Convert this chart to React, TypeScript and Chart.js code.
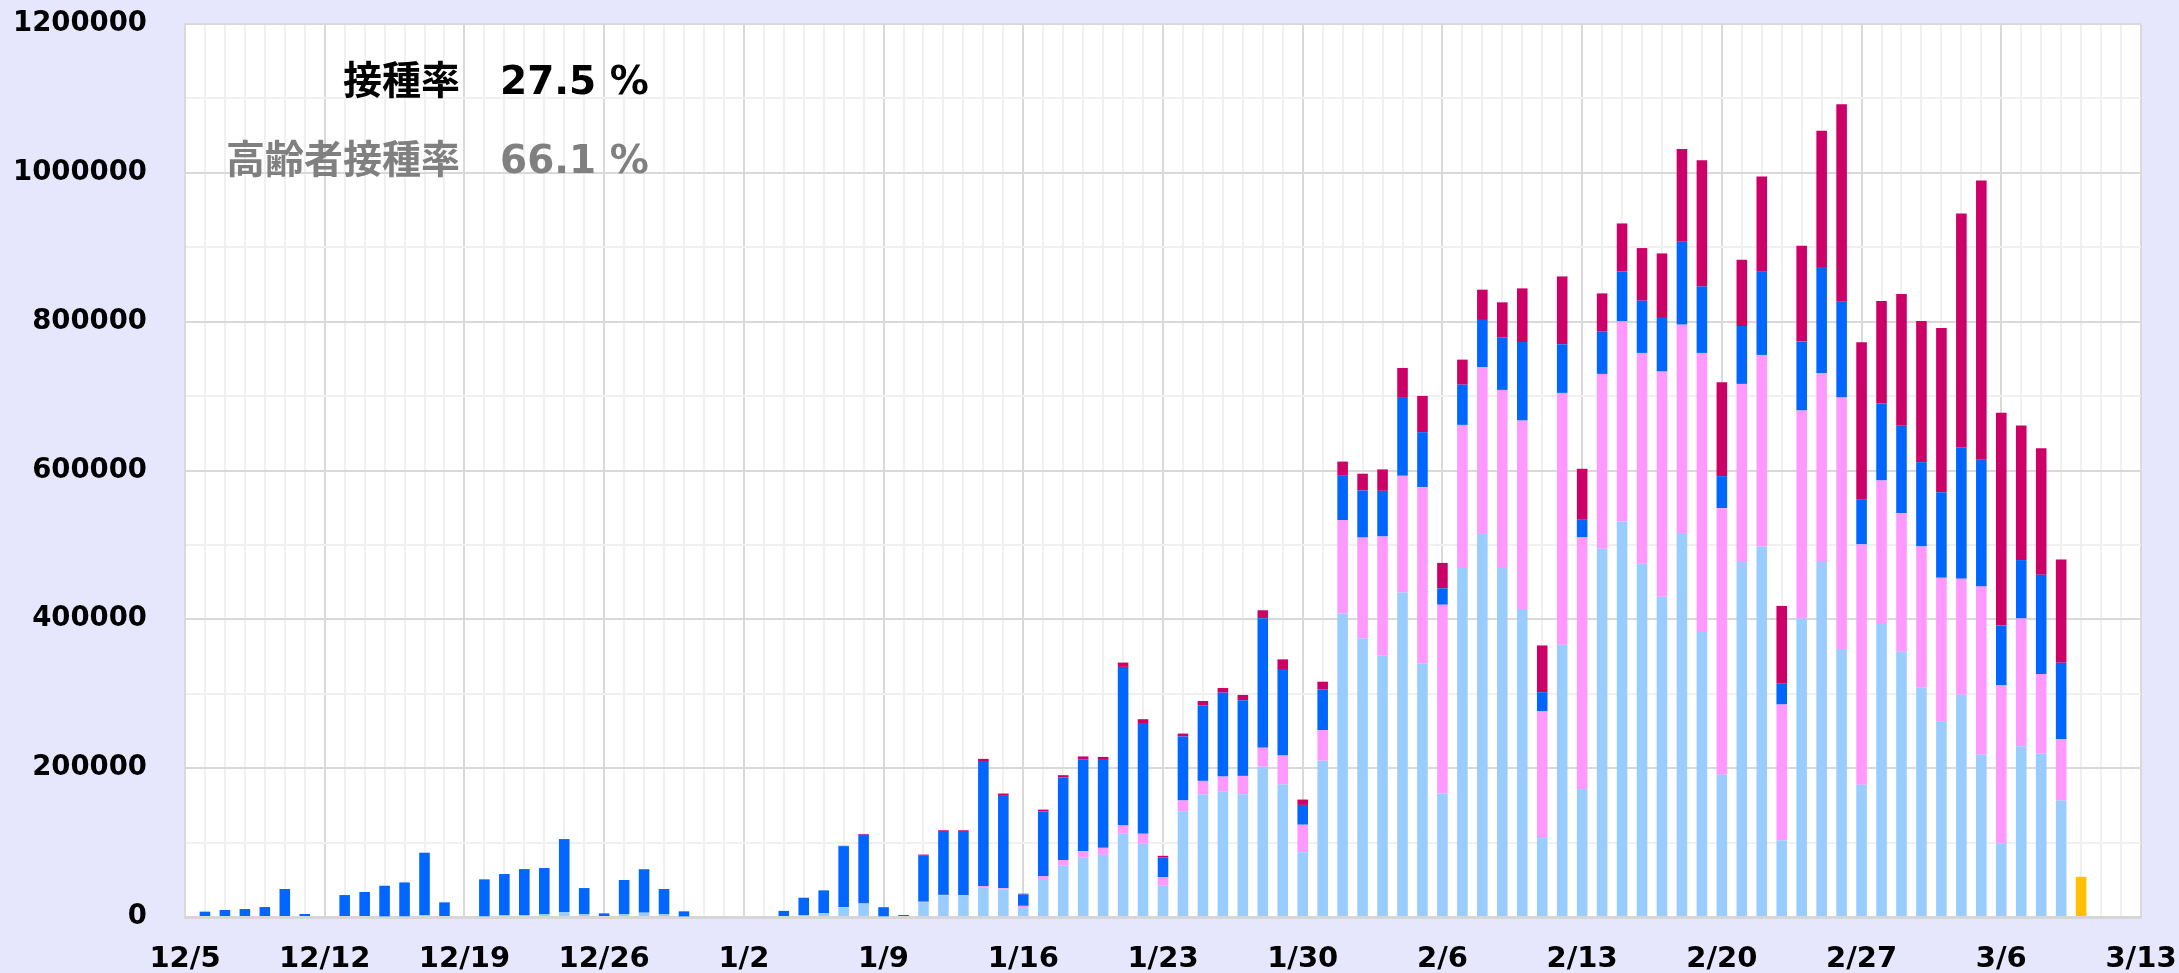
import React, { useEffect, useRef } from 'react';
import { Chart, registerables } from 'chart.js';

Chart.register(...registerables);

// Categories: one per day, 12/5 .. 3/13
const dateLabels = [
  '12/5', '12/6', '12/7', '12/8', '12/9', '12/10', '12/11',
  '12/12', '12/13', '12/14', '12/15', '12/16', '12/17', '12/18',
  '12/19', '12/20', '12/21', '12/22', '12/23', '12/24', '12/25',
  '12/26', '12/27', '12/28', '12/29', '12/30', '12/31', '1/1',
  '1/2', '1/3', '1/4', '1/5', '1/6', '1/7', '1/8',
  '1/9', '1/10', '1/11', '1/12', '1/13', '1/14', '1/15',
  '1/16', '1/17', '1/18', '1/19', '1/20', '1/21', '1/22',
  '1/23', '1/24', '1/25', '1/26', '1/27', '1/28', '1/29',
  '1/30', '1/31', '2/1', '2/2', '2/3', '2/4', '2/5',
  '2/6', '2/7', '2/8', '2/9', '2/10', '2/11', '2/12',
  '2/13', '2/14', '2/15', '2/16', '2/17', '2/18', '2/19',
  '2/20', '2/21', '2/22', '2/23', '2/24', '2/25', '2/26',
  '2/27', '2/28', '3/1', '3/2', '3/3', '3/4', '3/5',
  '3/6', '3/7', '3/8', '3/9', '3/10', '3/11', '3/12',
  '3/13',
];

// Series (bottom to top)
const seriesLightBlue = [
  0, 0, 0, 0, 0, 0, 0,
  0, 0, 0, 800, 1000, 2700, 0,
  0, 1000, 2700, 2700, 3600, 6700, 4000,
  0, 4000, 5800, 3600, 600, 0, 0,
  0, 0, 0, 2700, 5400, 12700, 17700,
  900, 0, 20000, 29000, 28600, 40000, 37000,
  13200, 51000, 68900, 79700, 83500, 111900, 98400,
  42000, 142000, 164500, 168500, 165000, 202000, 178000,
  87000, 210100, 407700, 374600, 351600, 436000, 340500,
  165900, 469100, 516100, 469100, 413900, 106000, 365900,
  172000, 495000, 531400, 475300, 430200, 516000, 383000,
  191000, 477000, 498000, 103000, 401200, 477000, 360100,
  177800, 393700, 356400, 307900, 263100, 298600, 218000,
  98900, 229500, 219500, 156500, 0, 0, 0,
  0,
];

const seriesPink = [
  0, 0, 0, 0, 0, 0, 0,
  0, 0, 0, 0, 0, 0, 0,
  0, 0, 0, 0, 0, 0, 0,
  0, 0, 0, 0, 0, 0, 0,
  0, 0, 0, 0, 0, 500, 500,
  0, 0, 500, 700, 700, 1500, 1500,
  1800, 3600, 7200, 8500, 9400, 11200, 13400,
  11400, 14600, 18400, 20200, 24600, 25500, 38900,
  37000, 40800, 125700, 135300, 159700, 156900, 237100,
  253700, 192200, 222600, 239200, 253200, 170700, 338400,
  338500, 234800, 269000, 282700, 302700, 280000, 375000,
  358400, 239400, 257300, 182500, 279400, 254100, 337900,
  322900, 192900, 186300, 190100, 192900, 156000, 226100,
  212700, 171700, 107100, 82300, 0, 0, 0,
  0,
];

const seriesBlue = [
  0, 7200, 9400, 10700, 13400, 37600, 4000,
  0, 29500, 33600, 41200, 45500, 83700, 19700,
  0, 49600, 55000, 61700, 62200, 98000, 34900,
  4000, 45700, 57800, 34000, 7000, 0, 0,
  0, 0, 8200, 23200, 30400, 82000, 92400,
  12300, 2700, 62600, 85900, 86300, 168000, 124300,
  15500, 87300, 111300, 123800, 118200, 213000, 147700,
  26400, 85900, 101600, 112800, 101600, 174000, 116300,
  26600, 54700, 60400, 63300, 61400, 104700, 73900,
  22100, 54100, 63600, 70700, 105600, 25400, 65300,
  23300, 56800, 67100, 70200, 72100, 111400, 89400,
  43000, 77800, 111800, 28000, 92600, 142300, 128900,
  60000, 103400, 117300, 113200, 114900, 176700, 170300,
  80300, 78400, 133400, 102700, 0, 0, 0,
  0,
];

const seriesCrimson = [
  0, 0, 0, 0, 0, 0, 0,
  0, 0, 0, 0, 0, 0, 0,
  0, 0, 0, 0, 0, 0, 0,
  800, 0, 800, 0, 0, 0, 0,
  0, 0, 0, 0, 0, 500, 1000,
  0, 0, 800, 1000, 1000, 3000, 3100,
  800, 2400, 3200, 3800, 4000, 5800, 6300,
  2400, 4000, 5800, 6300, 7200, 10700, 13000,
  7200, 10600, 18200, 22500, 28800, 40200, 48700,
  34100, 33600, 40700, 47000, 72000, 62800, 91200,
  68500, 51400, 64500, 70700, 86700, 124500, 169600,
  126200, 89000, 127900, 104500, 128800, 183000, 265300,
  211600, 137800, 177200, 189700, 220700, 314100, 375300,
  285600, 181000, 170000, 139000, 0, 0, 0,
  0,
];

const seriesPreliminary = [
  0, 0, 0, 0, 0, 0, 0,
  0, 0, 0, 0, 0, 0, 0,
  0, 0, 0, 0, 0, 0, 0,
  0, 0, 0, 0, 0, 0, 0,
  0, 0, 0, 0, 0, 0, 0,
  0, 0, 0, 0, 0, 0, 0,
  0, 0, 0, 0, 0, 0, 0,
  0, 0, 0, 0, 0, 0, 0,
  0, 0, 0, 0, 0, 0, 0,
  0, 0, 0, 0, 0, 0, 0,
  0, 0, 0, 0, 0, 0, 0,
  0, 0, 0, 0, 0, 0, 0,
  0, 0, 0, 0, 0, 0, 0,
  0, 0, 0, 0, 54000, 0, 0,
  0,
];

const seriesNames = ['系列1', '系列2', '系列3', '系列4', '速報'];
const seriesColors = ['#99ccff', '#ff99ff', '#0066ff', '#cc0066', '#ffc000'];

const annotationLines = [
  { label: '接種率', value: '27.5 %', color: '#000000' },
  { label: '高齢者接種率', value: '66.1 %', color: '#808080' },
];

const Y_MAX = 1200000;
const Y_STEP = 100000;
const Y_MAJOR = 200000;
const X_MAJOR_EVERY = 7;

const bgPlugin = {
  id: 'bgPlugin',
  beforeDraw(chart: any) {
    const { ctx, chartArea: a, width, height } = chart;
    ctx.save();
    ctx.fillStyle = '#e6e6fc';
    ctx.fillRect(0, 0, width, height);
    ctx.fillStyle = '#ffffff';
    ctx.fillRect(a.left, a.top, a.right - a.left, a.bottom - a.top);
    ctx.restore();
  },
  afterDraw(chart: any) {
    const { ctx, chartArea: a } = chart;
    ctx.save();
    ctx.font = 'bold 39px "DejaVu Sans", "Noto Sans CJK JP", sans-serif';
    ctx.textBaseline = 'middle';
    const splitX = a.left + 275;
    annotationLines.forEach((line, i) => {
      const y = a.top + 60 + i * 79;
      ctx.fillStyle = line.color;
      ctx.textAlign = 'right';
      ctx.fillText(line.label, splitX, y);
      ctx.textAlign = 'left';
      ctx.fillText(line.value, splitX + 40, y);
    });
    ctx.restore();
  },
};

export default function App() {
  const canvasRef = useRef<HTMLCanvasElement | null>(null);

  useEffect(() => {
    document.body.style.margin = '0';
    const canvas = canvasRef.current;
    if (!canvas) return;
    const chart = new Chart(canvas, {
      type: 'bar',
      data: {
        labels: dateLabels,
        datasets: [seriesLightBlue, seriesPink, seriesBlue, seriesCrimson, seriesPreliminary].map((d, i) => ({
          label: seriesNames[i],
          data: d,
          backgroundColor: seriesColors[i],
          borderWidth: 0,
          stack: 'total',
          barPercentage: 0.53,
          categoryPercentage: 1,
        })),
      },
      options: {
        animation: false,
        responsive: false,
        devicePixelRatio: 1,
        layout: { autoPadding: false, padding: { top: 24, right: 38, left: 0, bottom: 0 } },
        plugins: {
          legend: { display: false },
          tooltip: { enabled: false },
          title: { display: false },
        },
        scales: {
          x: {
            type: 'category',
            stacked: true,
            offset: false,
            afterFit: (s: any) => {
              s.height = 56;
              s.paddingLeft = 0;
              s.paddingRight = 0;
            },
            ticks: {
              autoSkip: false,
              maxRotation: 0,
              minRotation: 0,
              padding: 25,
              color: '#000000',
              font: { family: '"DejaVu Sans"', size: 29, weight: 'bold' },
              callback: (_v: any, i: number) => (i % X_MAJOR_EVERY === 0 ? dateLabels[i] : ''),
            },
            grid: {
              offset: false,
              drawTicks: false,
              lineWidth: 2,
              color: (c: any) => (c.index % X_MAJOR_EVERY === 0 ? '#d9d9d9' : '#f0f0f0'),
            },
            border: { display: true, color: '#d6d6d6', width: 3 },
          },
          y: {
            stacked: true,
            min: 0,
            max: Y_MAX,
            afterFit: (s: any) => {
              s.width = 185;
              s.paddingTop = 0;
              s.paddingBottom = 0;
            },
            ticks: {
              stepSize: Y_STEP,
              autoSkip: false,
              padding: 38,
              color: '#000000',
              font: { family: '"DejaVu Sans"', size: 27.5, weight: 'bold' },
              callback: (v: any) => (Number(v) % Y_MAJOR === 0 ? String(v) : ''),
            },
            grid: {
              drawTicks: false,
              lineWidth: 2,
              color: (c: any) => (c.tick && c.tick.value % Y_MAJOR === 0 ? '#d9d9d9' : '#f0f0f0'),
            },
            border: { display: true, color: '#d9d9d9', width: 2 },
          },
        },
      },
      plugins: [bgPlugin],
    } as any);
    return () => chart.destroy();
  }, []);

  return (
    <div style={{ position: 'fixed', left: 0, top: 0, width: 2179, height: 973 }}>
      <canvas ref={canvasRef} width={2179} height={973} style={{ display: 'block' }} />
    </div>
  );
}
